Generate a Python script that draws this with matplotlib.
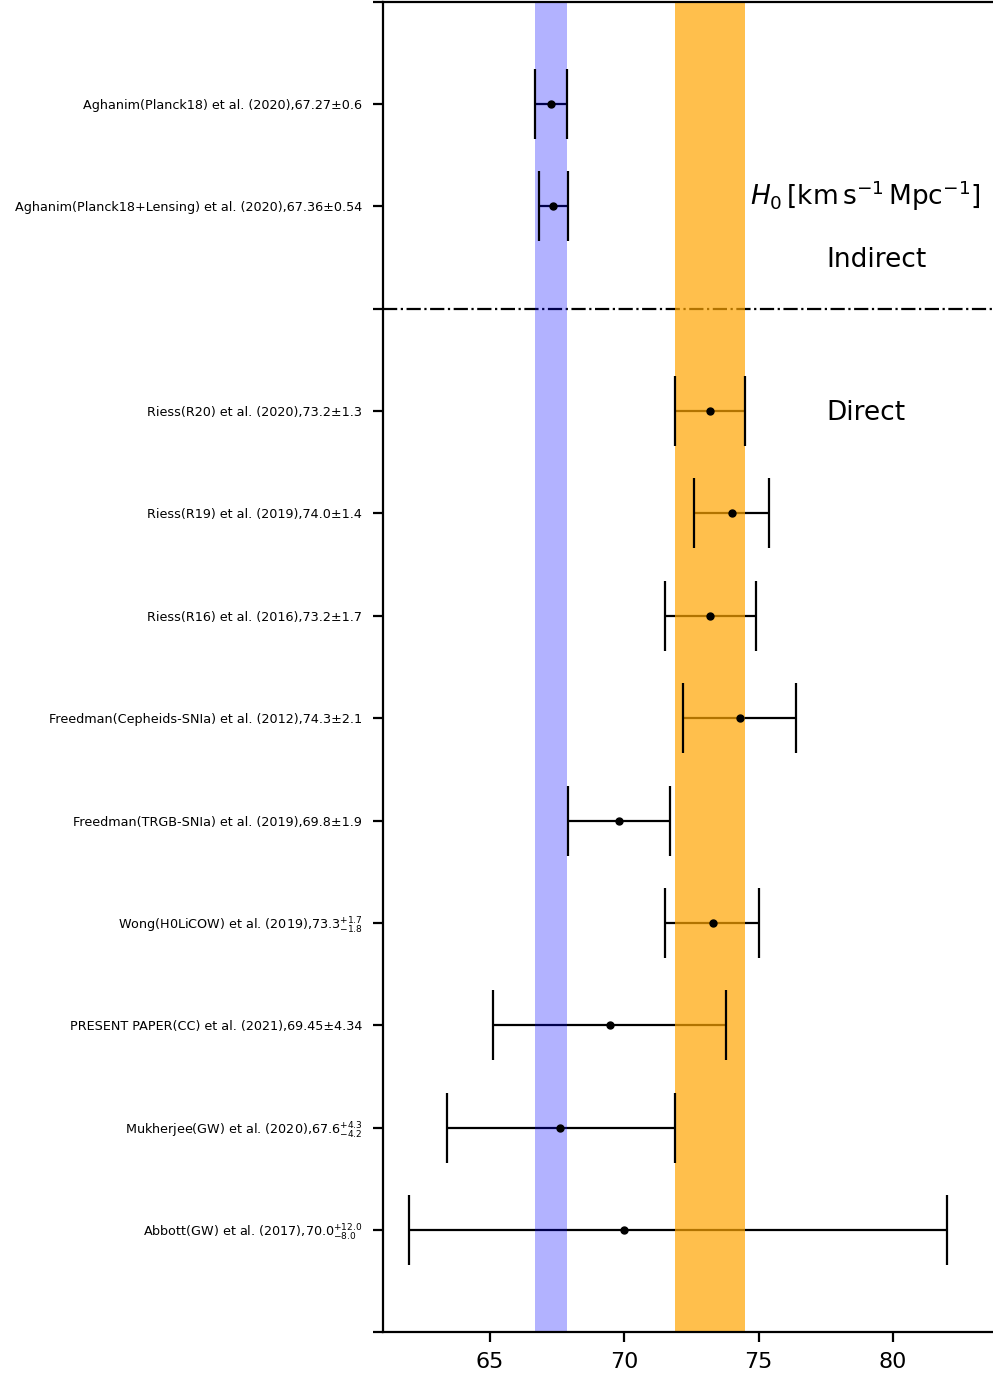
import matplotlib.pyplot as plt

# H0 measurements, top to bottom
names = [
    "Aghanim(Planck18) et al. (2020),67.27±0.6",
    "Aghanim(Planck18+Lensing) et al. (2020),67.36±0.54",
    "Riess(R20) et al. (2020),73.2±1.3",
    "Riess(R19) et al. (2019),74.0±1.4",
    "Riess(R16) et al. (2016),73.2±1.7",
    "Freedman(Cepheids-SNIa) et al. (2012),74.3±2.1",
    "Freedman(TRGB-SNIa) et al. (2019),69.8±1.9",
    "Wong(H0LiCOW) et al. (2019),73.3$^{+1.7}_{-1.8}$",
    "PRESENT PAPER(CC) et al. (2021),69.45±4.34",
    "Mukherjee(GW) et al. (2020),67.6$^{+4.3}_{-4.2}$",
    "Abbott(GW) et al. (2017),70.0$^{+12.0}_{-8.0}$",
]
h0 = [67.27, 67.36, 73.2, 74.0, 73.2, 74.3, 69.8, 73.3, 69.45, 67.6, 70.0]
err_lo = [0.6, 0.54, 1.3, 1.4, 1.7, 2.1, 1.9, 1.8, 4.34, 4.2, 8.0]
err_hi = [0.6, 0.54, 1.3, 1.4, 1.7, 2.1, 1.9, 1.7, 4.34, 4.3, 12.0]
rows = [1, 2, 4, 5, 6, 7, 8, 9, 10, 11, 12]
split_row = 3

fig = plt.figure(figsize=(9.93, 13.78), dpi=100)
ax = fig.add_axes([0.3857, 0.0331, 0.6143, 0.9657])

eb = ax.errorbar(h0, rows, xerr=[err_lo, err_hi], fmt='o', color='k',
                 ms=5, elinewidth=1.6, capsize=25, capthick=1.6)
eb[2][0].set_zorder(1)      # horizontal bars go under the bands
for c in eb[1]:
    c.set_zorder(3)
eb[0].set_zorder(4)

# Planck18 and R20 bands
ax.axvspan(h0[0] - err_lo[0], h0[0] + err_hi[0], color='blue', alpha=0.3, lw=0, zorder=2)
ax.axvspan(h0[2] - err_lo[2], h0[2] + err_hi[2], color='orange', alpha=0.7, lw=0, zorder=2)

ax.axhline(split_row, color='k', ls='-.', lw=1.6, zorder=1)

ax.text(74.68, 1.9, r'$H_0\,[\mathrm{km\,s^{-1}\,Mpc^{-1}}]$', fontsize=19, va='center')
ax.text(77.52, 2.52, 'Indirect', fontsize=19, va='center')
ax.text(77.52, 4.02, 'Direct', fontsize=19, va='center')

ticks = list(range(0, 14))
labels = [''] * 14
for r, n in zip(rows, names):
    labels[r] = n
ax.set_yticks(ticks)
ax.set_yticklabels(labels, fontsize=9.2)
ax.set_ylim(13, 0)
ax.set_xlim(61.02, 83.72)
ax.set_xticks([65, 70, 75, 80])
ax.tick_params(axis='x', labelsize=16, length=7, width=1.6, pad=7)
ax.tick_params(axis='y', length=7, width=1.6, pad=8)
ax.spines['right'].set_visible(False)
for s in ['left', 'bottom', 'top']:
    ax.spines[s].set_linewidth(1.6)

fig.savefig('out.png', dpi=100)
